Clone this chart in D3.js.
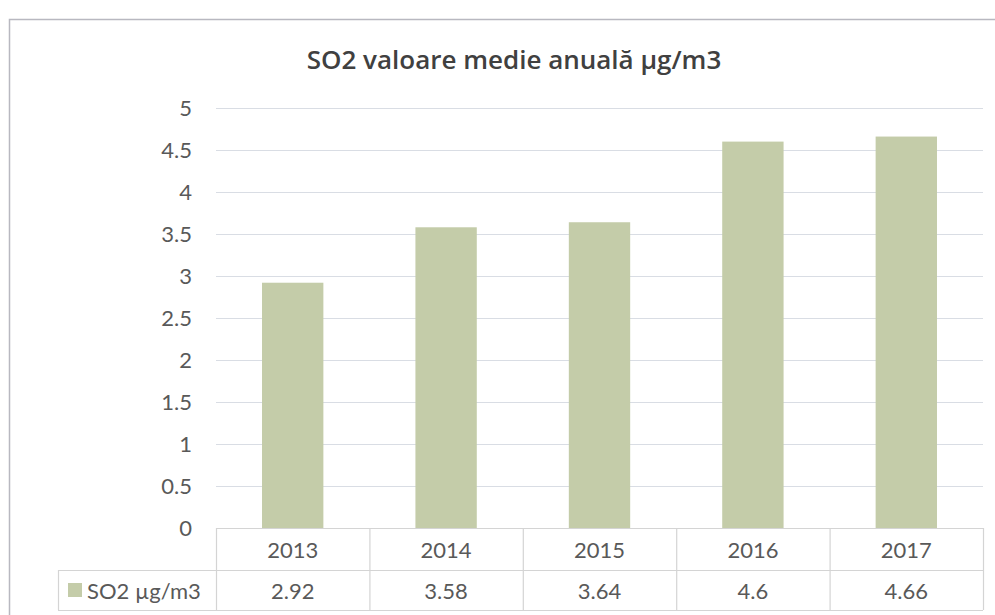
<!DOCTYPE html>
<html><head><meta charset="utf-8">
<script src="https://cdn.jsdelivr.net/npm/d3@7"></script>
<style>
html,body{margin:0;padding:0;background:#fff;}
svg text{font-family:Lato,"Noto Sans",sans-serif;fill:#595959;}
</style></head>
<body><svg id="c" width="995" height="615"></svg>
<script>
const categories = ["2013","2014","2015","2016","2017"];
const values = [2.92, 3.58, 3.64, 4.6, 4.66];
const yTicks = [0,0.5,1,1.5,2,2.5,3,3.5,4,4.5,5];
const yTickLabels = ["0","0.5","1","1.5","2","2.5","3","3.5","4","4.5","5"];
const seriesName = "SO2 µg/m3";
const valueLabels = ["2.92","3.58","3.64","4.6","4.66"];
const title = "SO2 valoare medie anuală µg/m3";

const svg = d3.select("#c");
const L = 216, R = 983, T = 108, B = 528;
const row1 = 570, row2 = 610, legendLeft = 58;
const barColor = "#c4cca9", gridColor = "#d9dde4", lineColor = "#d4d4d4";
const fs = "22px";

// outer border
svg.append("rect").attr("x",9.5).attr("y",19.5).attr("width",1000).attr("height",620)
  .attr("fill","none").attr("stroke","#b8b8c0").attr("stroke-width",1.5);

svg.append("text").attr("x",514).attr("y",69).attr("text-anchor","middle")
  .style("font-family","'Open Sans',Lato,sans-serif").style("font-weight","600")
  .style("font-size","26px").style("fill","#404040").text(title);

const x = d3.scaleBand().domain(categories).range([L,R]).paddingInner(0.6).paddingOuter(0.3);
const band = d3.scaleBand().domain(categories).range([L,R]);
const y = d3.scaleLinear().domain([0,5]).range([B,T]);

// gridlines
svg.append("g").selectAll("line").data(yTicks.filter(d=>d>0)).join("line")
  .attr("x1",L).attr("x2",R).attr("y1",d=>y(d)+0.5).attr("y2",d=>y(d)+0.5)
  .attr("stroke",gridColor).attr("stroke-width",1.2);

// y axis labels via d3 axis
const yAxis = d3.axisLeft(y).tickValues(yTicks).tickFormat((d,i)=>yTickLabels[i]).tickSize(0).tickPadding(24);
const ga = svg.append("g").attr("transform",`translate(${L},0)`).call(yAxis);
ga.select(".domain").remove();
ga.selectAll("text").style("font-size",fs).style("fill","#595959").style("font-family","Lato,'Noto Sans',sans-serif");

// bars
svg.append("g").selectAll("rect").data(values).join("rect")
  .attr("x",(d,i)=>x(categories[i])).attr("width",x.bandwidth())
  .attr("y",d=>y(d)).attr("height",d=>y(0)-y(d)).attr("fill",barColor);

// data table
const tg = svg.append("g");
tg.append("line").attr("x1",L).attr("x2",R).attr("y1",B+0.5).attr("y2",B+0.5).attr("stroke",lineColor).attr("stroke-width",1.2);
tg.append("line").attr("x1",legendLeft).attr("x2",R).attr("y1",row1+0.5).attr("y2",row1+0.5).attr("stroke",lineColor).attr("stroke-width",1.2);
tg.append("line").attr("x1",legendLeft).attr("x2",R).attr("y1",row2+0.5).attr("y2",row2+0.5).attr("stroke",lineColor).attr("stroke-width",1.2);
tg.append("line").attr("x1",legendLeft+0.5).attr("x2",legendLeft+0.5).attr("y1",row1).attr("y2",row2).attr("stroke",lineColor).attr("stroke-width",1.2);
const bounds = categories.map(c=>band(c)).concat([R]);
tg.selectAll("line.v").data(bounds).join("line").attr("class","v")
  .attr("x1",d=>d+0.5).attr("x2",d=>d+0.5).attr("y1",B).attr("y2",row2)
  .attr("stroke",lineColor).attr("stroke-width",1.2);
tg.selectAll("text.cat").data(categories).join("text").attr("class","cat")
  .attr("x",d=>band(d)+band.bandwidth()/2).attr("y",B+30).attr("text-anchor","middle")
  .style("font-size",fs).text(d=>d);
tg.selectAll("text.val").data(valueLabels).join("text").attr("class","val")
  .attr("x",(d,i)=>band(categories[i])+band.bandwidth()/2).attr("y",row1+29).attr("text-anchor","middle")
  .style("font-size",fs).text(d=>d);
// legend key
tg.append("rect").attr("x",68).attr("y",583).attr("width",14).attr("height",14).attr("fill",barColor);
tg.append("text").attr("x",87).attr("y",row1+29).style("font-size",fs).text(seriesName);
</script></body></html>
